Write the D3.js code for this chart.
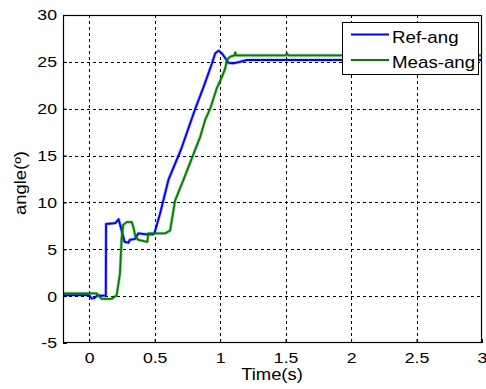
<!DOCTYPE html>
<html>
<head>
<meta charset="utf-8">
<script src="https://cdn.jsdelivr.net/npm/d3@7"></script>
<style>
  html, body { margin: 0; padding: 0; background: #fff; }
  svg { display: block; font-family: "Liberation Sans", Arial, sans-serif; }
</style>
</head>
<body>
<svg id="chart" width="486" height="389"></svg>
<script>
// Reference angle command (deg) over time (s)
const refTime  = [-0.2, 0.0, 0.02, 0.04, 0.06, 0.127, 0.129, 0.2, 0.225, 0.248, 0.27, 0.3, 0.31, 0.35, 0.375, 0.44, 0.49, 0.5, 0.541, 0.605, 0.70, 0.81, 0.873, 0.937, 0.962, 0.988, 1.014, 1.039, 1.064, 1.10, 1.15, 1.205, 1.5, 2.0, 2.5, 3.0];
const refAngle = [0.1, 0.1, -0.25, -0.2, 0.05, 0.05, 7.7, 7.8, 8.2, 7.0, 5.8, 5.7, 6.0, 6.1, 6.7, 6.6, 6.6, 6.8, 8.8, 12.4, 15.6, 20.0, 22.3, 24.8, 25.9, 26.2, 25.9, 25.4, 24.9, 24.85, 25.0, 25.2, 25.2, 25.2, 25.2, 25.2];

// Measured angle (deg) over time (s)
const measTime  = [-0.2, 0.0, 0.057, 0.095, 0.17, 0.21, 0.235, 0.248, 0.26, 0.286, 0.325, 0.337, 0.345, 0.352, 0.375, 0.444, 0.452, 0.58, 0.618, 0.656, 0.682, 0.72, 0.809, 0.848, 0.886, 0.924, 0.975, 1.014, 1.039, 1.052, 1.077, 1.11, 1.116, 1.122, 1.167, 1.5, 1.51, 1.52, 2.0, 2.5, 3.0];
const measAngle = [0.3, 0.3, 0.3, -0.3, -0.3, 0.1, 2.4, 6.2, 7.6, 7.9, 7.9, 7.4, 6.9, 6.4, 6.0, 5.8, 6.7, 6.7, 7.0, 10.2, 11.1, 12.4, 15.6, 17.0, 18.8, 20.0, 22.2, 23.4, 24.3, 25.2, 25.55, 25.7, 26.0, 25.7, 25.7, 25.7, 25.9, 25.7, 25.7, 25.7, 25.7];

const xTicks = [0, 0.5, 1, 1.5, 2, 2.5, 3];
const yTicks = [-5, 0, 5, 10, 15, 20, 25, 30];
const seriesNames = ["Ref-ang", "Meas-ang"];
const seriesColors = ["#0000ff", "#008000"];

const svg = d3.select("#chart");
const box = { left: 63, right: 482, top: 15, bottom: 343 };

const x = d3.scaleLinear().domain([-0.2, 3]).range([box.left, box.right]);
const y = d3.scaleLinear().domain([-5, 30]).range([box.bottom, box.top]);

// Widen glyphs along the text direction (wide sans look)
function stretch(sel, factor) {
  sel.each(function () {
    const w = this.getComputedTextLength();
    d3.select(this).attr("textLength", w * factor).attr("lengthAdjust", "spacingAndGlyphs");
  });
}

// Grid lines
const grid = svg.append("g").attr("stroke", "#000").attr("stroke-width", 1).attr("stroke-dasharray", "3,3");
grid.selectAll("line.v").data(xTicks.filter(d => d > -0.2 && d < 3)).join("line").attr("class", "v")
  .attr("x1", d => Math.round(x(d)) + 0.5).attr("x2", d => Math.round(x(d)) + 0.5)
  .attr("y1", box.top).attr("y2", box.bottom);
grid.selectAll("line.h").data(yTicks.filter(d => d > -5 && d < 30)).join("line").attr("class", "h")
  .attr("y1", d => Math.round(y(d)) + 0.5).attr("y2", d => Math.round(y(d)) + 0.5)
  .attr("x1", box.left).attr("x2", box.right);

// Data lines
const series = [
  { t: refTime, v: refAngle },
  { t: measTime, v: measAngle }
];
const line = d3.line().x(d => x(d[0])).y(d => y(d[1]));
series.forEach((s, i) => {
  const pts = s.t.map((t, k) => [t, s.v[k]]);
  svg.append("path").datum(pts)
    .attr("fill", "none").attr("stroke", seriesColors[i]).attr("stroke-opacity", 0.35)
    .attr("stroke-width", 3.2).attr("stroke-linejoin", "round").attr("d", line);
  svg.append("path").datum(pts)
    .attr("fill", "none").attr("stroke", seriesColors[i])
    .attr("stroke-width", 1.8).attr("stroke-linejoin", "round").attr("d", line);
});

// Axes box
svg.append("rect").attr("x", box.left + 0.5).attr("y", box.top + 0.5)
  .attr("width", box.right - box.left - 1).attr("height", box.bottom - box.top - 1)
  .attr("fill", "none").attr("stroke", "#000").attr("stroke-width", 1.2);

// Axes with inward ticks
const xAxis = d3.axisBottom(x).tickValues(xTicks).tickSize(-4).tickPadding(9).tickFormat(d => String(d));
const yAxis = d3.axisLeft(y).tickValues(yTicks).tickSize(-4).tickPadding(6).tickFormat(d => String(d));
const gx = svg.append("g").attr("transform", `translate(0,${box.bottom})`).call(xAxis);
const gy = svg.append("g").attr("transform", `translate(${box.left},0)`).call(yAxis);
[gx, gy].forEach(g => {
  g.select(".domain").remove();
  g.selectAll("text").attr("font-size", 15.5).attr("fill", "#000")
    .attr("font-family", "'Liberation Sans', Arial, sans-serif");
  g.selectAll("line").attr("stroke", "#000");
  stretch(g.selectAll("text"), 1.14);
});

// Axis labels
const xl = svg.append("text").attr("x", 272).attr("y", 380)
  .attr("text-anchor", "middle").attr("font-size", 16).text("Time(s)");
stretch(xl, 1.15);
const yl = svg.append("text").attr("transform", `translate(25.5,183) rotate(-90)`)
  .attr("text-anchor", "middle").attr("font-size", 16).text("angle(º)");
stretch(yl, 1.15);

// Legend
const lg = svg.append("g");
lg.append("rect").attr("x", 342.5).attr("y", 22.5).attr("width", 136).attr("height", 52)
  .attr("fill", "#fff").attr("stroke", "#000").attr("stroke-width", 1);
seriesNames.forEach((name, i) => {
  const cy = 34.5 + i * 25.5;
  lg.append("line").attr("x1", 351).attr("x2", 389).attr("y1", cy).attr("y2", cy)
    .attr("stroke", seriesColors[i]).attr("stroke-width", 1.8);
  const t = lg.append("text").attr("x", 392).attr("y", cy + 8).attr("font-size", 17).text(name);
  stretch(t, 1.1);
});
</script>
</body>
</html>
